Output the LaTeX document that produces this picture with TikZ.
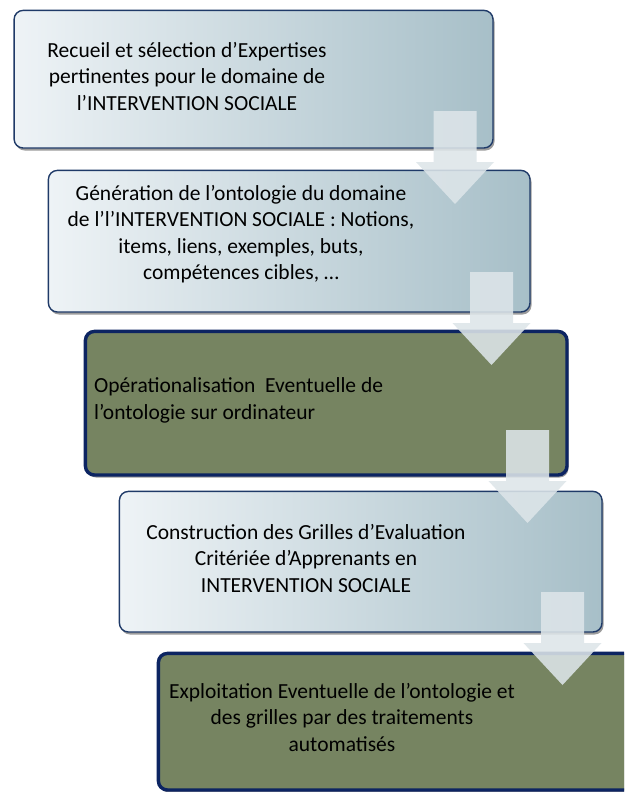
\documentclass[tikz,border=0pt]{standalone}
\usepackage{fontspec}
\setmainfont{Carlito}
\usetikzlibrary{shadows}
\definecolor{paleL}{HTML}{EEF3F6}
\definecolor{paleR}{HTML}{A7BFC8}
\definecolor{thinnavy}{HTML}{1F3A68}
\definecolor{thicknavy}{HTML}{0C2462}
\definecolor{olivefill}{HTML}{768461}
\definecolor{arrowfill}{HTML}{DDE5E9}
\newcommand{\mydownarrow}[2]{%
  \fill[blockarrow] (#1-21.5,#2) -- (#1+21.5,#2) -- (#1+21.5,#2+51) -- (#1+39,#2+51)
    -- (#1,#2+93) -- (#1-39,#2+51) -- (#1-21.5,#2+51) -- cycle;}
\begin{document}
\begin{tikzpicture}[x=1pt,y=-1pt,
  stepbase/.style={rectangle, rounded corners=9pt, anchor=north west, inner sep=0pt,
    drop shadow={shadow xshift=1.5pt, shadow yshift=-2.5pt, fill=black!55, opacity=0.7}},
  palebox/.style={stepbase, left color=paleL, right color=paleR, draw=thinnavy, line width=1.4pt},
  olivebox/.style={stepbase, fill=olivefill, draw=thicknavy, line width=3.4pt},
  blockarrow/.style={fill=arrowfill, fill opacity=0.88},
  steptext/.style={font=\fontsize{21.5}{26.5}\selectfont, align=center, inner sep=0pt, text=black}]
\useasboundingbox (0,0) rectangle (624,792);
\fill[white] (0,0) rectangle (624,792);
\clip (0,0) rectangle (624,792);
% boxes
\node[palebox, minimum width=478.9pt, minimum height=137.6pt] (b1) at (13.4,9.7) {};
\node[palebox, minimum width=481.6pt, minimum height=141.6pt] (b2) at (47.7,169.7) {};
\node[olivebox, minimum width=481.6pt, minimum height=143.6pt] (b3) at (83.7,329.7) {};
\node[palebox, minimum width=482.6pt, minimum height=140.6pt] (b4) at (118.7,490.7) {};
\node[olivebox, minimum width=500pt, minimum height=136.6pt] (b5) at (156.7,651.7) {};
% arrows
\mydownarrow{455}{111}
\mydownarrow{491.5}{272}
\mydownarrow{527.5}{430}
\mydownarrow{562.5}{592}
% texts
\node[steptext] (t1) at (187,76) {Recueil et sélection d’Expertises\\pertinentes pour le domaine de\\l’INTERVENTION SOCIALE};
\node[steptext] (t2) at (241,234) {Génération de l’ontologie du domaine\\de l’l’INTERVENTION SOCIALE : Notions,\\items, liens, exemples, buts,\\compétences cibles, …};
\node[steptext, align=left, anchor=west] (t3) at (94,400.5) {Opérationalisation~ Eventuelle de\\l’ontologie sur ordinateur};
\node[steptext] (t4) at (306,558) {Construction des Grilles d’Evaluation\\Critériée d’Apprenants en\\INTERVENTION SOCIALE};
\node[steptext] (t5) at (342,717) {Exploitation Eventuelle de l’ontologie et\\des grilles par des traitements\\automatisés};
\end{tikzpicture}
\end{document}
